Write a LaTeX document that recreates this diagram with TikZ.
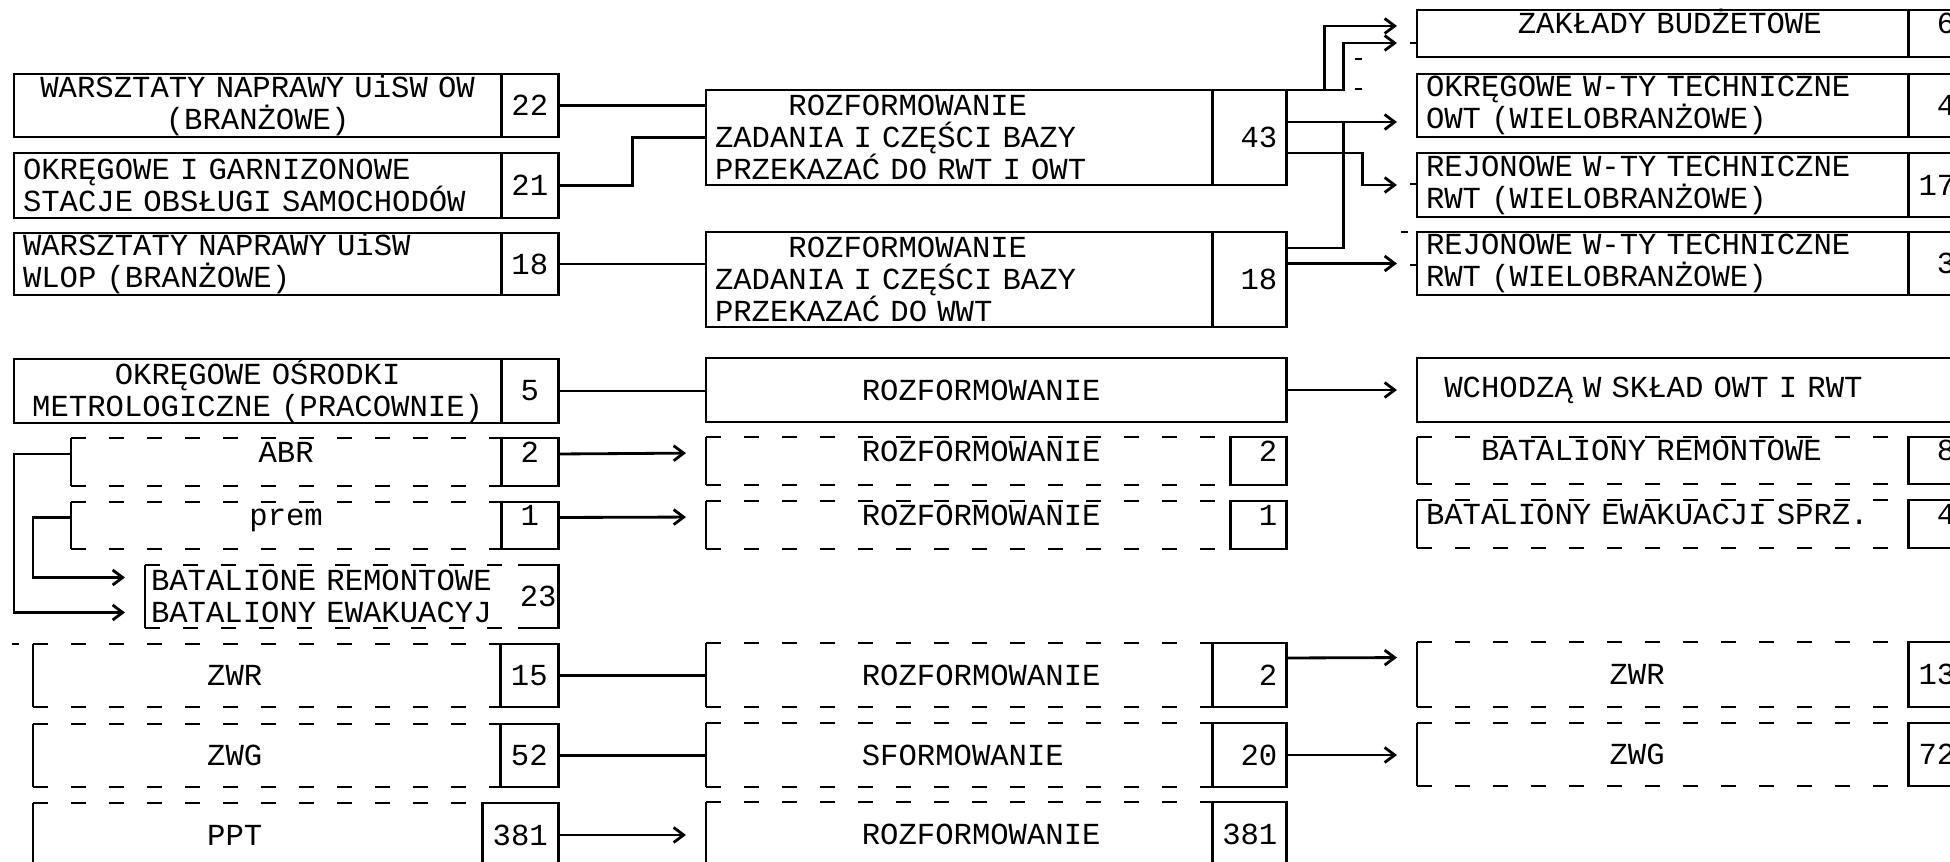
\documentclass[tikz,border=0pt]{standalone}
\usepackage{fontspec}
\setmainfont{Liberation Mono}
\usetikzlibrary{arrows.meta,positioning}
\newcommand{\indt}[1]{\hspace*{\dimexpr #1em*3/5\relax}}

\begin{document}
\begin{tikzpicture}[
  x=0.01cm, y=-0.01cm,
  line width=0.8pt,
  font=\fontsize{8.7pt}{9.1pt}\selectfont,
  cell/.style={anchor=north west,inner xsep=0.09cm,inner ysep=0pt,outer sep=0pt,align=left},
  box/.style={cell,draw},
  num/.style={draw,inner xsep=0.09cm,inner ysep=0pt,outer sep=0pt},
  hi/.style={text height=0.19cm,text depth=0.18cm},
  brk/.style={dash pattern=on 0.15cm off 0.23cm},
  arr/.style={-{Straight Barb[length=0.1cm,width=0.15cm]},shorten >=0.2cm}
]
\useasboundingbox (0,0) rectangle (1950,862);
\clip (0,0) rectangle (1950,862);
% left column
\node[box,align=center,text width=4.69cm,minimum height=0.63cm] (l1) at (14,74) {WARSZTATY NAPRAWY UiSW OW\\(BRANŻOWE)};
\node[num,minimum width=0.57cm,minimum height=0.63cm,right=0pt of l1] (l1n) {22};
\node[box,text width=4.69cm,minimum height=0.65cm] (l2) at (14,153) {OKRĘGOWE I GARNIZONOWE\\STACJE OBSŁUGI SAMOCHODÓW};
\node[num,minimum width=0.57cm,minimum height=0.65cm,right=0pt of l2] (l2n) {21};
\node[box,text width=4.69cm,minimum height=0.62cm] (l3) at (14,233) {WARSZTATY NAPRAWY UiSW\\WLOP (BRANŻOWE)};
\node[num,minimum width=0.57cm,minimum height=0.62cm,right=0pt of l3] (l3n) {18};
\node[box,align=center,text width=4.69cm,minimum height=0.64cm] (l4) at (14,359) {OKRĘGOWE OŚRODKI\\METROLOGICZNE (PRACOWNIE)};
\node[num,minimum width=0.57cm,minimum height=0.64cm,right=0pt of l4] (l4n) {5};
\node[cell,hi,align=center,text width=4.12cm,minimum height=0.48cm] (abr) at (71,438) {ABR};
\node[num,hi,minimum width=0.57cm,minimum height=0.48cm,right=0pt of abr] (abrn) {2};
\node[cell,hi,align=center,text width=4.12cm,minimum height=0.47cm] (prem) at (71,502) {prem};
\node[num,hi,minimum width=0.57cm,minimum height=0.47cm,right=0pt of prem] (premn) {1};
\node[cell,inner xsep=0.06cm,text width=3.61cm,minimum height=0.63cm] (bat) at (145,565) {BATALIONE REMONTOWE\\BATALIONY EWAKUACYJ};
\node[inner sep=0pt,outer sep=0pt,minimum width=0.40cm,minimum height=0.63cm,right=0pt of bat] (batn) {23};
\node[cell,text width=4.49cm,minimum height=0.63cm] (lzwr) at (33,644) {\indt{9}ZWR};
\node[num,minimum width=0.58cm,minimum height=0.63cm,right=0pt of lzwr] (lzwrn) {15};
\node[cell,text width=4.49cm,minimum height=0.63cm] (lzwg) at (33,724) {\indt{9}ZWG};
\node[num,minimum width=0.58cm,minimum height=0.63cm,right=0pt of lzwg] (lzwgn) {52};
\node[cell,text width=4.31cm,minimum height=0.64cm] (lppt) at (33,803) {\indt{9}PPT};
\node[num,minimum width=0.76cm,minimum height=0.64cm,right=0pt of lppt] (lpptn) {381};
% middle column
\node[box,text width=4.88cm,minimum height=0.95cm] (m1) at (706,90) {\indt{4}ROZFORMOWANIE\\ZADANIA I CZĘŚCI BAZY\\PRZEKAZAĆ DO RWT I OWT};
\node[num,text width=0.56cm,align=right,minimum height=0.95cm,right=0pt of m1] (m1n) {43};
\node[box,text width=4.88cm,minimum height=0.95cm] (m2) at (706,232) {\indt{4}ROZFORMOWANIE\\ZADANIA I CZĘŚCI BAZY\\PRZEKAZAĆ DO WWT};
\node[num,text width=0.56cm,align=right,minimum height=0.95cm,right=0pt of m2] (m2n) {18};
\node[box,text width=5.62cm,minimum height=0.64cm] (m3) at (706,358) {\indt{8}ROZFORMOWANIE};
\node[cell,hi,text width=5.06cm,minimum height=0.48cm] (m4) at (706,437) {\indt{8}ROZFORMOWANIE};
\node[num,hi,text width=0.38cm,align=right,minimum height=0.48cm,right=0pt of m4] (m4n) {2};
\node[cell,hi,text width=5.06cm,minimum height=0.48cm] (m5) at (706,501) {\indt{8}ROZFORMOWANIE};
\node[num,hi,text width=0.38cm,align=right,minimum height=0.48cm,right=0pt of m5] (m5n) {1};
\node[cell,text width=4.88cm,minimum height=0.64cm] (m6) at (706,643) {\indt{8}ROZFORMOWANIE};
\node[num,text width=0.56cm,align=right,minimum height=0.64cm,right=0pt of m6] (m6n) {2};
\node[cell,text width=4.88cm,minimum height=0.64cm] (m7) at (706,723) {\indt{8}SFORMOWANIE};
\node[num,text width=0.56cm,align=right,minimum height=0.64cm,right=0pt of m7] (m7n) {20};
\node[cell,text width=4.88cm,minimum height=0.64cm] (m8) at (706,802) {\indt{8}ROZFORMOWANIE};
\node[num,text width=0.56cm,align=right,minimum height=0.64cm,right=0pt of m8] (m8n) {381};
% right column
\node[box,hi,text width=4.73cm,minimum height=0.47cm] (zak) at (1417,10) {\indt{5}ZAKŁADY BUDŻETOWE};
\node[num,hi,text width=0.38cm,align=right,minimum height=0.47cm,right=0pt of zak] (zakn) {6};
\node[box,text width=4.73cm,minimum height=0.63cm] (okr) at (1417,74) {OKRĘGOWE W-TY TECHNICZNE\\OWT (WIELOBRANŻOWE)};
\node[num,text width=0.38cm,align=right,minimum height=0.63cm,right=0pt of okr] (okrn) {4};
\node[box,text width=4.73cm,minimum height=0.64cm] (rwt1) at (1417,153) {REJONOWE W-TY TECHNICZNE\\RWT (WIELOBRANŻOWE)};
\node[num,text width=0.38cm,align=right,minimum height=0.64cm,right=0pt of rwt1] (rwt1n) {17};
\node[box,text width=4.73cm,minimum height=0.63cm] (rwt2) at (1417,232) {REJONOWE W-TY TECHNICZNE\\RWT (WIELOBRANŻOWE)};
\node[num,text width=0.38cm,align=right,minimum height=0.63cm,right=0pt of rwt2] (rwt2n) {3};
\node[box,text width=5.42cm,minimum height=0.64cm] (wch) at (1417,358) {\indt{1}WCHODZĄ W SKŁAD OWT I RWT};
\node[cell,hi,text width=4.73cm,minimum height=0.47cm] (brem) at (1417,437) {\indt{3}BATALIONY REMONTOWE};
\node[num,hi,text width=0.38cm,align=right,minimum height=0.47cm,right=0pt of brem] (bremn) {8};
\node[cell,hi,text width=4.73cm,minimum height=0.48cm] (bew) at (1417,500) {BATALIONY EWAKUACJI SPRZ.};
\node[num,hi,text width=0.38cm,align=right,minimum height=0.48cm,right=0pt of bew] (bewn) {4};
\node[cell,text width=4.73cm,minimum height=0.65cm] (rzwr) at (1417,642) {\indt{10}ZWR};
\node[num,text width=0.38cm,align=right,minimum height=0.65cm,right=0pt of rzwr] (rzwrn) {13};
\node[cell,text width=4.73cm,minimum height=0.63cm] (rzwg) at (1417,723) {\indt{10}ZWG};
\node[num,text width=0.38cm,align=right,minimum height=0.63cm,right=0pt of rzwg] (rzwgn) {72};
% open frames
\foreach \n in {abr,prem,bat,lzwr,lzwg,lppt,m4,m5,m6,m7,m8,brem,bew,rzwr,rzwg}{
  \draw (\n.north west) -- (\n.south west);
  \draw[brk] (\n.north west) -- (\n.north east) (\n.south west) -- (\n.south east);
}
\draw (batn.north west) -- (batn.north east) -- (batn.south east) -- (batn.south west);
% left to middle
\draw (l1n.east) -- (l1n.east -| m1.west);
\draw (l2n.east) -- ++(74,0) |- (m1.west);
\draw (l3n.east) -- (l3n.east -| m2.west);
\draw (l4n.east) -- (l4n.east -| m3.west);
\draw[arr] ([yshift=.08cm]abrn.east) -- ([yshift=.08cm]m4.west);
\draw[arr] ([yshift=.08cm]premn.east) -- ([yshift=.08cm]m5.west);
\draw[arr] ([yshift=.08cm]abr.west) -- ++(-57,0) |- ([yshift=-.16cm]bat.west);
\draw[arr] ([yshift=.08cm]prem.west) -- ++(-38,0) |- ([yshift=.19cm]bat.west);
\draw (lzwrn.east) -- (lzwrn.east -| m6.west);
\draw (lzwgn.east) -- (lzwgn.east -| m7.west);
\draw[arr] (lpptn.east) -- (lpptn.east -| m8.west);
% middle to right
\draw[arr] (m1n.north east) -- ++(38,0) |- ([yshift=.075cm]zak.west);
\draw[arr] (m1n.north east) -- ++(57,0) |- ([yshift=-.095cm]zak.west);
\coordinate (jn) at ([yshift=-.165cm]okr.west);
\draw[arr] (jn -| m1n.east) -- (jn);
\draw[arr] ([yshift=-.155cm]m1n.east) -- ++(76,0) |- (rwt1.west);
\draw ([yshift=.315cm]m2n.east) -- ++(57,0) -- ++(0,-126);
\draw[arr] (rwt2.west -| m2n.east) -- (rwt2.west);
\draw[arr] (m3.east) -- (wch.west);
\draw[arr] ([yshift=.17cm]m6n.east) -- ([yshift=.17cm]rzwr.west);
\draw[arr] (m7n.east) -- (m7n.east -| rzwg.west);
% stray plotter ticks
\foreach \x/\y in {1355/59,1355/89,1410/43,1410/184,1401/232,1410/265,12/644}
  \draw (\x,\y) -- ++(7,0);
\end{tikzpicture}
\end{document}
